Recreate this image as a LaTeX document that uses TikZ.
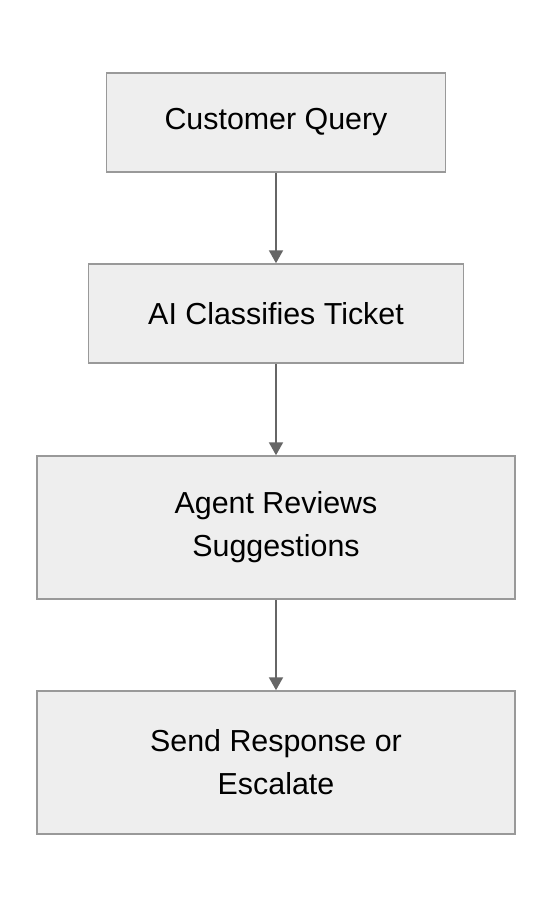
\documentclass[tikz,border=0pt]{standalone}
\usepackage{fontspec}
\setmainfont{Liberation Sans}
\usetikzlibrary{arrows.meta}
\definecolor{boxfill}{HTML}{EEEEEE}
\definecolor{boxline}{HTML}{999999}
\definecolor{arrowc}{HTML}{666666}
\tikzset{
  stepbox/.style={draw=boxline, fill=boxfill, line width=1.5bp, inner sep=0pt, align=center,
    font=\fontsize{30.5}{43}\selectfont, text=black},
  flow/.style={draw=arrowc, line width=2bp, -{Triangle[width=14bp,length=13bp]}}
}
\begin{document}
\begin{tikzpicture}[x=1bp,y=-1bp]
\useasboundingbox (0,0) rectangle (552,908);
\node[stepbox, minimum width=339bp, minimum height=99bp] (a) at (276,122.5) {Customer Query};
\node[stepbox, minimum width=375bp, minimum height=99bp] (b) at (276,313.5) {AI Classifies Ticket};
\node[stepbox, minimum width=478bp, minimum height=143bp] (c) at (276,527.5) {Agent Reviews\\Suggestions};
\node[stepbox, minimum width=478bp, minimum height=143bp] (d) at (276,762.5) {Send Response or\\Escalate};
\draw[flow] (a.south) -- (b.north);
\draw[flow] (b.south) -- (c.north);
\draw[flow] (c.south) -- (d.north);
\end{tikzpicture}
\end{document}
